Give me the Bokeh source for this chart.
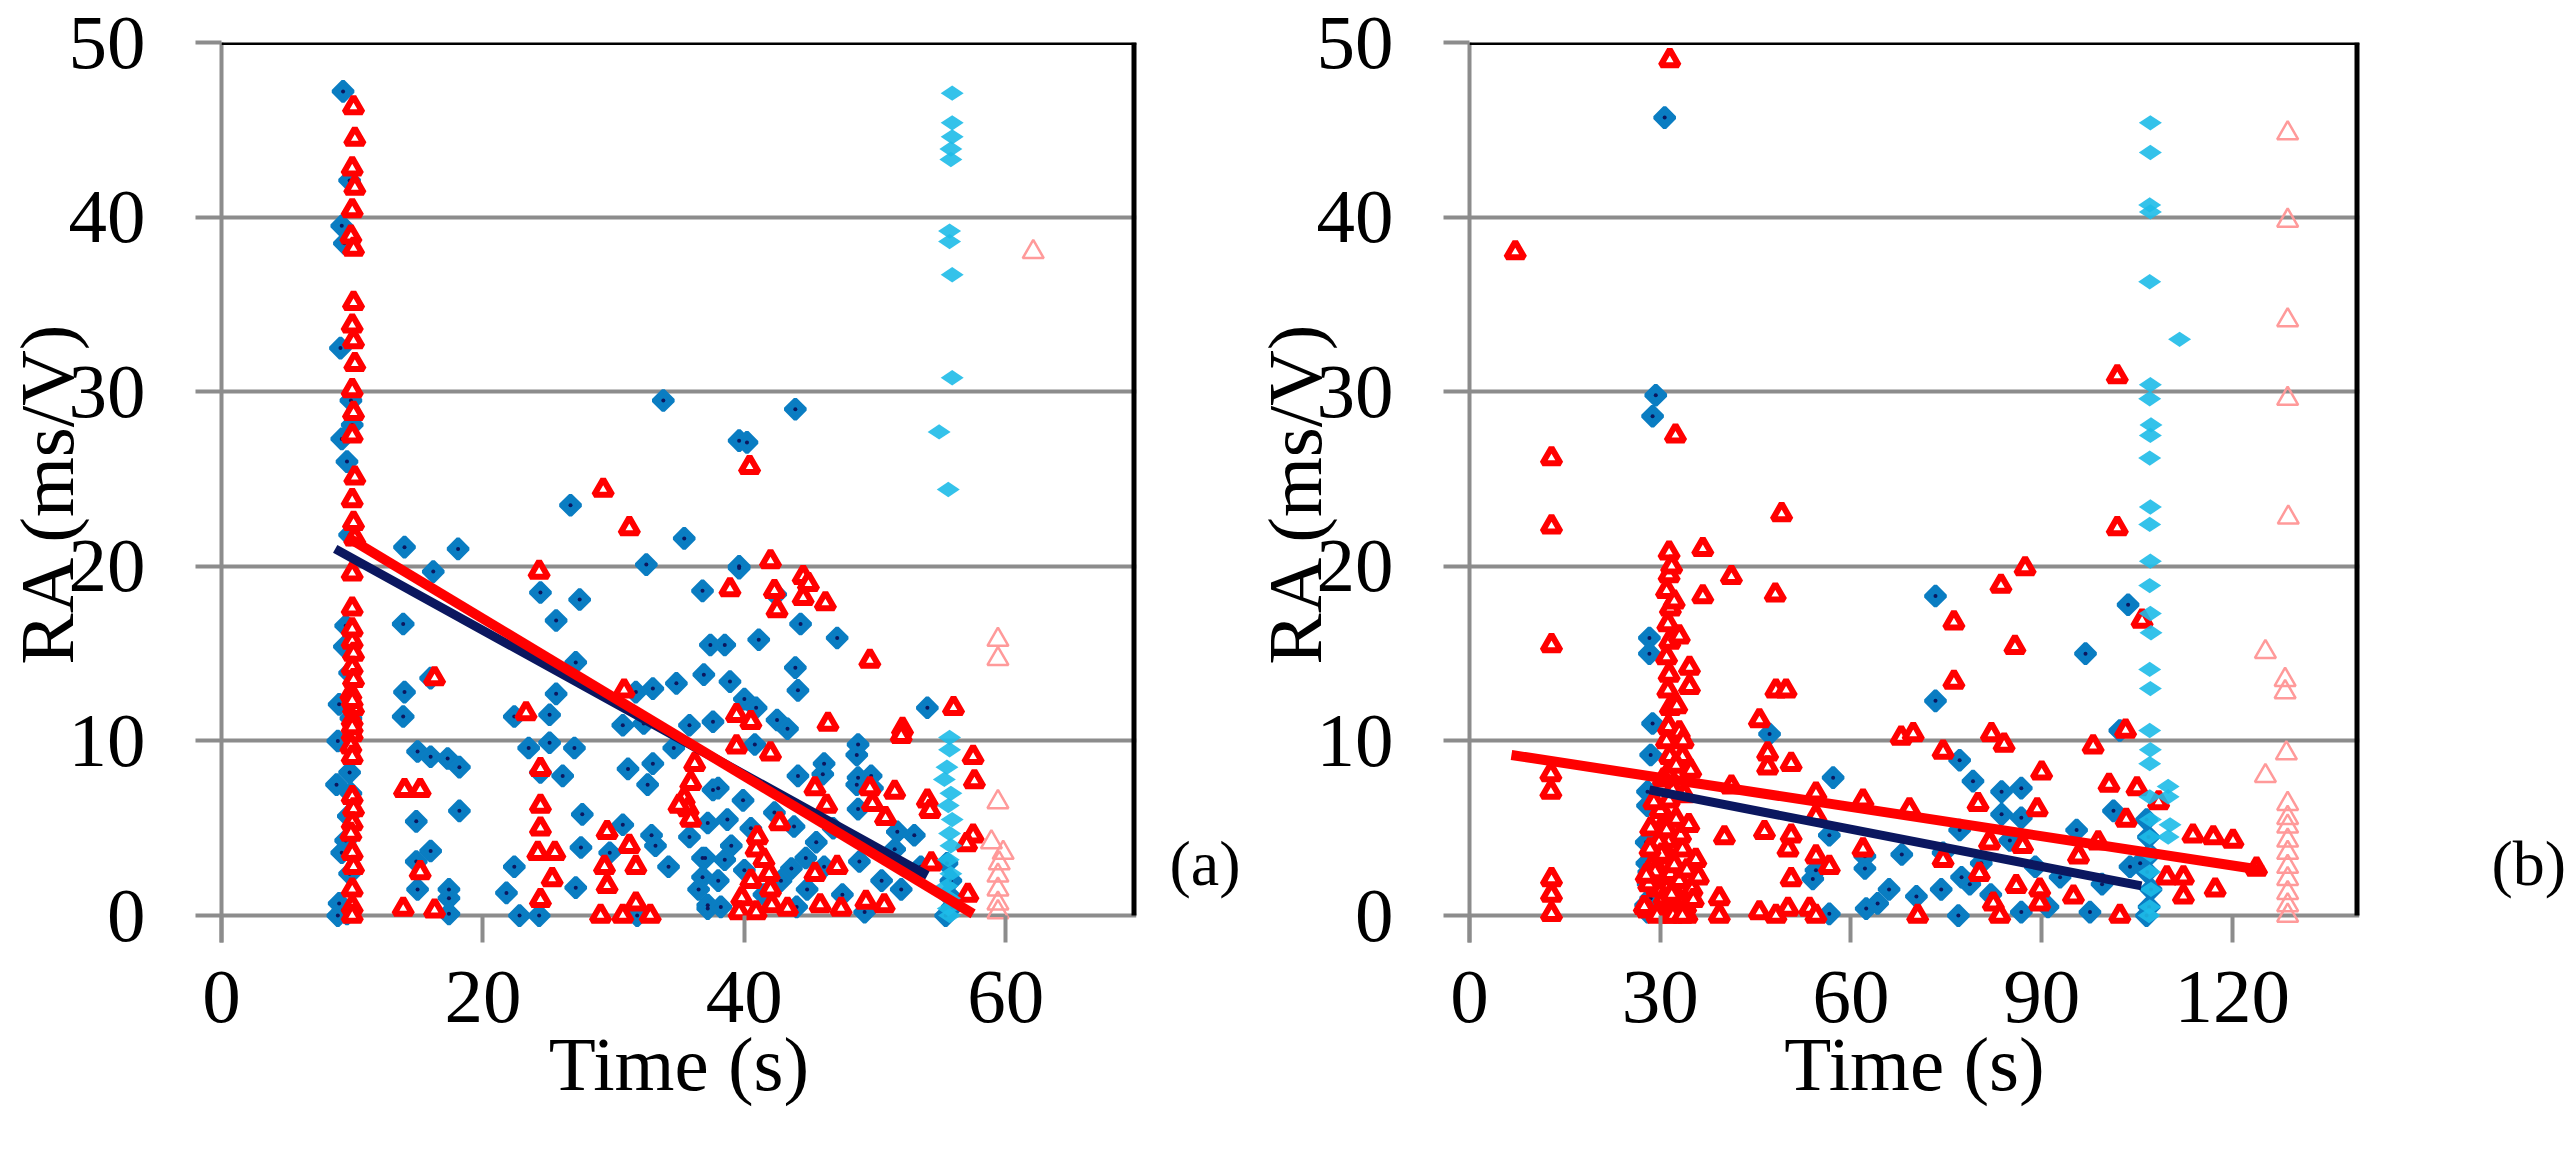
import math
from bokeh.plotting import figure
from bokeh.models import Range1d, Span, FixedTicker, LinearAxis
from bokeh.layouts import row
from bokeh.embed import file_html
from bokeh.resources import INLINE

# ---------------- data : panel (a) ----------------
a_blue_x = [9.3, 9.8, 9.2, 9.4, 9.1, 9.9, 10.0, 9.2, 9.6, 9.8, 9.5, 9.4, 9.8, 9.0, 9.9, 8.9, 9.8, 8.8, 9.9, 9.7,
            9.5, 9.2, 9.8, 9.0, 9.3, 8.9, 9.6,
            33.8, 39.6, 40.2, 43.9, 26.7, 35.4, 32.5, 36.8, 14.0, 18.1, 16.2, 24.4, 27.4, 25.6, 13.9, 27.1, 36.9,
            34.8, 33.0, 31.7, 25.6, 14.0, 16.0, 13.9, 22.4, 25.1, 30.7, 35.8, 37.6, 32.3, 34.6, 23.5, 25.1, 27.0,
            15.0, 16.0, 17.3, 18.2, 31.1, 33.0, 32.6, 26.1, 24.4, 37.6, 18.2, 14.9, 27.6, 30.7, 32.9, 33.2, 27.5,
            29.7, 16.0, 14.9, 22.4, 36.8, 36.8, 15.0, 17.4, 17.4, 21.8, 27.1, 22.8, 24.3, 17.4, 31.8, 37.2, 37.4,
            39.6, 42.4, 44.3, 47.1, 38.5, 41.1, 43.9, 44.1, 38.9, 40.0, 40.9, 42.5, 43.3, 54.0, 48.7, 46.1, 40.8,
            48.7, 49.7, 44.1, 38.0, 39.9, 42.3, 38.7, 37.2, 48.7, 51.7, 53.0, 43.8, 37.0, 38.5, 40.0, 43.6, 44.7,
            46.1, 48.8, 37.2, 49.2, 52.0, 44.8, 48.6, 46.0, 48.6, 49.8, 39.6,
            55.5, 55.8, 55.6, 55.9, 55.4,
            36.5, 38.0, 39.0, 40.5, 41.5, 42.8, 45.5, 47.5, 50.5, 51.5, 53.5, 46.8, 44.0, 38.2, 35.8, 34.2]
a_blue_y = [47.2, 42.1, 39.5, 38.5, 32.5, 29.5, 28.1, 27.3, 26.0, 21.8, 16.6, 15.4, 13.9, 12.1, 11.3, 10.0, 8.2, 7.5,
            7.0, 5.7, 4.3, 3.6, 2.4, 0.7, 0.3, 0.0, 0.1,
            29.5, 27.2, 27.1, 29.0, 23.5, 21.6, 20.1, 18.6, 21.1, 21.0, 19.7, 18.5, 18.1, 16.9, 16.7, 14.5, 13.8,
            13.3, 13.0, 12.8, 12.7, 12.8, 13.6, 11.4, 11.4, 11.5, 10.9, 10.9, 11.1, 11.0, 9.6, 9.6, 9.9, 9.6,
            9.4, 9.1, 9.0, 8.5, 8.4, 8.7, 7.5, 8.0, 8.2, 7.2, 6.0, 5.4, 5.8, 5.2, 4.6, 4.0, 3.9,
            3.6, 3.7, 3.1, 2.8, 3.3, 2.2, 1.5, 1.0, 1.5, 1.3, 1.6, 0.0, 0.0, 0.1, 0.0, 0.4, 15.5,
            20.0, 18.4, 16.7, 15.9, 15.5, 15.8, 14.2, 12.9, 13.4, 12.4, 11.9, 11.2, 10.7, 11.9, 9.8, 8.7, 9.8,
            7.9, 8.0, 8.0, 7.3, 6.6, 5.9, 5.5, 5.3, 6.1, 4.8, 4.6, 5.1, 3.3, 3.2, 2.6, 2.7, 3.3,
            2.8, 3.1, 0.6, 0.2, 1.5, 1.5, 9.2, 8.1, 7.5, 7.3, 19.9,
            3.0, 2.0, 1.2, 0.5, 0.0,
            1.5, 2.0, 4.0, 5.0, 1.2, 2.0, 4.2, 1.2, 2.0, 3.8, 2.8, 5.0, 0.5, 0.5, 4.5, 2.8]

a_red_x = [10.1, 10.2, 10.0, 10.2, 10.0, 9.9, 10.1, 10.1, 10.0, 10.1, 10.2, 10.0, 10.1, 10.0, 10.2, 10.0, 10.1,
           10.2, 10.0, 10.0, 10.0, 10.1, 10.0, 10.1, 9.9, 10.1, 10.0, 10.0, 9.9, 10.0, 10.0, 10.1, 10.0, 9.9,
           10.0, 10.1, 10.0, 10.0, 10.0, 10.0, 10.0, 10.0,
           29.2, 31.2, 40.4, 24.3, 42.0, 38.9, 16.3, 23.3, 14.0, 15.2, 24.4, 24.4, 24.4, 24.2, 25.5, 25.3, 24.4,
           15.2, 13.9, 16.3, 29.5, 31.2, 31.7, 29.3, 29.5, 31.7, 29.0, 30.7, 32.8, 30.8, 36.2, 35.9, 35.4, 35.7,
           35.9, 35.0, 42.3, 42.5, 44.5, 44.5, 46.2, 49.6, 56.0, 46.4, 52.1, 39.4, 40.5, 39.4, 42.0, 57.5, 57.6,
           54.0, 45.4, 49.6, 51.5, 49.8, 50.8, 46.3, 42.7, 57.5, 57.1, 54.3, 45.4, 47.1, 40.9, 41.9, 39.8, 42.1,
           43.3, 45.8, 47.4, 49.3, 50.7, 40.9, 39.6, 44.9, 52.0, 54.2, 57.0, 41.0, 41.5, 40.5, 42.0]
a_red_y = [46.3, 44.5, 42.8, 41.7, 40.4, 38.9, 38.2, 35.1, 33.8, 32.9, 31.6, 30.1, 28.8, 27.5, 25.1, 23.8, 22.5,
           21.6, 19.6, 17.6, 15.7, 15.0, 14.2, 13.5, 12.7, 11.9, 11.2, 10.4, 9.7, 9.1, 6.8, 6.1, 5.3, 4.7,
           3.6, 2.8, 1.5, 0.5, 0.0, 16.4, 12.3, 10.8,
           24.4, 22.2, 25.7, 19.7, 20.3, 18.7, 13.6, 11.6, 7.2, 7.2, 8.4, 6.3, 5.0, 3.6, 3.6, 2.1, 0.9,
           2.5, 0.4, 0.3, 4.8, 4.0, 2.8, 2.8, 1.7, 0.7, 0.0, 0.0, 0.0, 12.9, 8.7, 7.6, 6.7, 6.1,
           5.5, 6.3, 18.6, 17.5, 19.4, 18.2, 17.9, 14.6, 11.9, 11.0, 10.7, 11.5, 11.1, 9.7, 9.3, 9.1, 7.7,
           6.6, 7.3, 7.3, 7.1, 6.4, 5.6, 6.3, 5.3, 4.6, 1.2, 3.0, 2.4, 2.8, 3.8, 2.4, 1.0, 0.6,
           0.4, 0.6, 0.4, 0.8, 0.6, 0.2, 0.2, 19.0, 10.3, 6.0, 4.1, 4.5, 3.2, 2.0, 1.5]

a_cyan_x = [55.9, 55.9, 55.9, 55.8, 55.8, 55.7, 55.7, 55.9, 55.9, 54.9, 55.6, 55.7, 55.7, 55.5, 55.3, 55.8, 55.6,
            55.9, 55.7, 55.8, 55.6, 55.8, 55.5, 55.7, 55.6, 55.7]
a_cyan_y = [47.1, 45.4, 44.6, 43.9, 43.3, 39.2, 38.6, 36.7, 30.8, 27.7, 24.4, 10.2, 9.5, 8.5, 7.8, 7.0, 6.3,
            5.5, 4.7, 4.0, 3.2, 2.4, 1.7, 1.0, 0.4, 0.0]

a_pink_x = [62.1, 59.4, 59.4, 59.4, 58.9, 59.8, 59.5, 59.4, 59.4, 59.4, 59.4]
a_pink_y = [38.0, 15.8, 14.7, 6.5, 4.2, 3.6, 3.0, 2.3, 1.5, 0.7, 0.2]

a_navy_fit_x = [8.7, 54.0]
a_navy_fit_y = [21.0, 2.3]
a_red_fit_x = [9.8, 57.5]
a_red_fit_y = [21.6, 0.1]

# ---------------- data : panel (b) ----------------
b_blue_x = [30.7, 29.3, 28.8, 28.3, 28.3, 28.8, 28.5, 28.0, 28.0, 27.8, 28.2, 28.5, 28.0, 57.2, 47.2, 62.2, 62.2,
            62.4, 64.2, 56.6, 54.0, 54.5, 56.6, 73.3, 103.6, 96.9, 73.3, 102.3, 77.1, 79.2, 83.7, 86.8, 83.7,
            86.8, 95.5, 101.3, 85.0, 77.1, 74.5, 77.4, 74.2, 78.7, 70.3, 76.9, 86.8, 92.9, 97.6, 103.9,
            106.5, 106.8, 107.0, 106.6, 107.2, 106.9, 106.5, 105.5, 66.0, 68.0, 80.5, 82.0, 89.0, 91.0, 99.5,
            27.9, 28.1, 27.7]
b_blue_y = [45.7, 29.8, 28.6, 15.9, 15.0, 11.0, 9.2, 7.1, 6.3, 4.2, 2.5, 1.0, 0.2, 7.9, 10.4, 3.4, 2.7,
            0.4, 0.7, 0.1, 2.1, 2.6, 4.6, 18.3, 17.8, 15.0, 12.3, 10.6, 8.9, 7.7, 7.1, 7.3, 5.8,
            5.6, 4.9, 6.0, 4.3, 4.9, 3.6, 2.2, 1.5, 1.8, 1.1, 0.0, 0.2, 2.2, 0.2, 2.8,
            5.5, 4.5, 3.5, 2.5, 1.5, 0.5, 0.0, 3.0, 1.5, 3.5, 3.0, 1.2, 2.8, 0.5, 1.8,
            3.0, 1.8, 0.6]

b_red_x = [31.5, 7.2, 32.4, 12.9, 12.9, 49.1, 31.4, 36.7, 41.2, 36.7, 48.1, 12.9, 12.8, 12.8, 12.9, 12.9, 12.9,
           31.4, 31.0, 31.6, 31.2, 31.5, 31.0, 31.4, 31.2, 31.6, 31.3, 31.0, 31.5, 31.2, 31.4, 31.0, 31.5,
           31.2, 31.6, 31.0, 31.4, 31.2,
           28.5, 29.0, 29.5, 28.0, 30.0, 32.5, 33.0, 34.0, 33.5, 30.0, 32.0, 29.8, 32.8, 34.6, 34.6, 33.5,
           35.6, 33.0, 32.6, 34.2, 35.0,
           27.5, 28.2, 29.2, 30.2, 30.6, 31.8, 32.2, 33.2, 34.2, 35.2, 29.0, 30.5, 32.5, 33.8, 34.5, 36.0,
           28.4, 29.5, 32.0, 33.5, 27.8, 31.0, 33.0, 32.2, 31.8, 33.6, 34.8,
           48.2, 49.8, 45.6, 46.9, 46.9, 50.6, 41.2, 40.1, 46.4, 50.1, 50.6, 54.5, 54.5, 61.9, 61.9, 54.5,
           56.6, 50.6, 39.3, 39.3, 45.6, 48.2, 50.1, 53.5, 54.5, 67.9,
           101.9, 101.9, 87.4, 83.6, 76.2, 85.8, 76.2, 105.8, 69.8, 82.1, 84.1, 74.5, 98.1, 103.2, 90.0, 100.6,
           105.0, 108.4, 80.0, 89.3, 69.2, 103.3, 113.8, 117.0, 120.1, 123.8, 81.8, 87.0, 98.9, 95.8, 74.5,
           80.2, 86.0, 89.7, 95.0, 82.4, 89.7, 83.4, 102.3, 70.5, 112.3, 112.3, 117.3, 109.7]
b_red_y = [49.0, 38.0, 27.5, 26.2, 22.3, 23.0, 20.8, 21.0, 19.4, 18.3, 18.4, 15.5, 8.1, 7.1, 2.1, 1.2, 0.1,
           19.5, 18.6, 17.6, 16.7, 15.7, 14.8, 13.8, 12.9, 11.9, 10.8, 10.0, 9.1, 8.1, 6.6, 5.5, 4.3,
           3.4, 2.4, 1.5, 0.6, 0.0,
           5.0, 3.0, 1.5, 0.3, 6.0, 5.5, 2.0, 0.5, 3.8, 0.2, 7.2, 4.2, 1.0, 14.2, 13.1, 9.1,
           3.2, 16.0, 12.0, 0.0, 1.5,
           0.5, 1.8, 2.5, 3.5, 1.0, 1.2, 2.9, 4.6, 2.6, 0.9, 6.5, 7.8, 8.6, 6.9, 5.2, 2.2,
           3.8, 0.0, 0.0, 0.0, 2.3, 4.9, 10.5, 18.0, 20.0, 10.0, 8.3,
           12.9, 12.9, 11.2, 9.3, 8.5, 8.7, 7.4, 4.5, 4.8, 3.8, 4.6, 7.0, 5.7, 6.6, 3.8, 3.4,
           2.8, 2.1, 1.0, 0.0, 0.2, 0.0, 0.4, 0.4, 0.0, 10.2,
           30.9, 22.2, 19.9, 18.9, 16.8, 15.4, 13.4, 16.9, 10.4, 10.4, 9.8, 9.4, 9.7, 10.6, 8.2, 7.5,
           7.3, 6.5, 6.4, 6.1, 6.1, 5.5, 4.6, 4.5, 4.3, 2.7, 4.2, 4.0, 4.2, 3.4, 3.2,
           2.4, 1.7, 1.5, 1.1, 0.7, 0.7, 0.0, 0.0, 0.0, 2.2, 1.1, 1.5, 2.2]

b_cyan_x = [107.1, 107.1, 107.0, 107.1, 107.0, 111.7, 107.1, 107.0, 107.2, 107.1, 107.0, 107.1, 107.0, 107.1,
            107.0, 107.1, 107.2, 107.0, 107.1, 107.0, 107.1, 107.0, 109.9, 109.9, 110.2, 109.9, 107.0, 107.1,
            107.0, 107.1, 107.0, 107.2, 107.0, 106.9]
b_cyan_y = [45.4, 43.7, 40.7, 40.3, 36.3, 33.0, 30.4, 29.6, 28.1, 27.5, 26.2, 23.4, 22.4, 20.3, 18.9, 17.3, 16.2,
            14.1, 13.0, 10.6, 9.5, 8.7, 7.4, 6.8, 5.2, 4.5, 6.8, 5.5, 4.5, 3.5, 2.5, 1.5, 0.5, 0.0]

b_pink_x = [128.7, 128.7, 128.7, 128.7, 128.8, 125.2, 128.3, 128.3, 128.5, 125.2, 128.7, 128.7, 128.7, 128.7,
            128.7, 128.7, 128.7, 128.7, 128.7, 128.7]
b_pink_y = [44.8, 39.8, 34.1, 29.6, 22.8, 15.1, 13.5, 12.8, 9.3, 8.0, 6.4, 5.6, 5.1, 4.3, 3.6, 2.8, 2.1, 1.3,
            0.6, 0.0]

b_navy_fit_x = [28.3, 105.7]
b_navy_fit_y = [7.2, 1.7]
b_red_fit_x = [6.6, 124.9]
b_red_fit_y = [9.2, 2.6]

x_ticks_a = [0, 20, 40, 60]
x_ticks_b = [0, 30, 60, 90, 120]
y_ticks = [0, 10, 20, 30, 40, 50]
tag_level = 3.0

# ---------------- style ----------------
FONT = "Liberation Serif"
GRID = "#8c8c8c"
BLUE = "#0a7dc2"
NAVY = "#0b175f"
RED = "#ff0000"
CYAN = "#1ebbe8"
PINK = "#ff9a9a"


def panel(x_max, xticks, frame_w, border_l, border_r, blue, red, cyan, pink, navy_fit, red_fit,
          tag, tag_standoff):
    y_min, y_max = -1.54, 50
    p = figure(frame_width=frame_w, frame_height=900,
               min_border_left=border_l, min_border_right=border_r,
               min_border_top=42, min_border_bottom=204,
               x_range=Range1d(0, x_max), y_range=Range1d(y_min, y_max),
               output_backend="svg", toolbar_location=None)
    p.outline_line_color = None
    p.background_fill_color = "white"
    p.border_fill_color = "white"
    p.xgrid.visible = False
    p.ygrid.grid_line_color = GRID
    p.ygrid.grid_line_width = 4
    p.ygrid.level = "underlay"

    xa = p.xaxis[0]
    xa.ticker = FixedTicker(ticks=xticks)
    xa.axis_line_color = None
    xa.major_tick_in = 27
    xa.major_tick_out = 0
    xa.major_tick_line_color = GRID
    xa.major_tick_line_width = 4
    xa.minor_tick_line_color = None
    xa.major_label_text_font = FONT
    xa.major_label_text_font_size = "77px"
    xa.major_label_text_color = "black"
    xa.major_label_standoff = 29
    xa.axis_label = "Time (s)"
    xa.axis_label_text_font = FONT
    xa.axis_label_text_font_size = "77px"
    xa.axis_label_text_font_style = "normal"
    xa.axis_label_text_color = "black"
    xa.axis_label_standoff = -4

    ya = p.yaxis[0]
    ya.ticker = FixedTicker(ticks=y_ticks)
    ya.axis_line_color = GRID
    ya.axis_line_width = 4
    ya.major_tick_in = 0
    ya.major_tick_out = 26
    ya.major_tick_line_color = GRID
    ya.major_tick_line_width = 4
    ya.minor_tick_line_color = None
    ya.major_label_text_font = FONT
    ya.major_label_text_font_size = "77px"
    ya.major_label_text_color = "black"
    ya.major_label_standoff = 50
    ya.axis_label = "RA (ms/V)"
    ya.axis_label_text_font = FONT
    ya.axis_label_text_font_size = "77px"
    ya.axis_label_text_font_style = "normal"
    ya.axis_label_text_color = "black"
    ya.axis_label_standoff = -24

    # panel tag "(a)"/"(b)" shown as the only label of an invisible right axis
    tag_axis = LinearAxis(ticker=FixedTicker(ticks=[tag_level]),
                          major_label_overrides={tag_level: tag},
                          axis_line_color=None, major_tick_line_color=None,
                          minor_tick_line_color=None, major_tick_out=0, major_tick_in=0,
                          major_label_standoff=tag_standoff,
                          major_label_text_font=FONT, major_label_text_font_size="64px",
                          major_label_text_color="black")
    p.add_layout(tag_axis, "right")

    # borders: black top and right
    p.add_layout(Span(location=y_max, dimension="width", line_color="black", line_width=5))
    p.segment(x0=[x_max], y0=[0], x1=[x_max], y1=[y_max], line_color="black", line_width=10)

    # series
    p.scatter(blue[0], blue[1], marker="square", angle=math.pi / 4, size=14,
              fill_color=BLUE, line_color=BLUE, line_width=4)
    p.scatter(blue[0], blue[1], marker="circle", size=4, fill_color=NAVY, line_color=None)
    p.scatter(red[0], red[1], marker="triangle", size=18, fill_color="white",
              line_color=RED, line_width=6)
    p.scatter(cyan[0], cyan[1], marker="diamond", angle=math.pi / 2, size=23,
              fill_color=CYAN, line_color=None, fill_alpha=0.9)
    p.scatter(pink[0], pink[1], marker="triangle", size=21, fill_color=None,
              line_color=PINK, line_width=2.5)
    p.line(navy_fit[0], navy_fit[1], line_color=NAVY, line_width=9)
    p.line(red_fit[0], red_fit[1], line_color=RED, line_width=10)
    return p


p1 = panel(70, x_ticks_a, 915, 216, 112,
           (a_blue_x, a_blue_y), (a_red_x, a_red_y), (a_cyan_x, a_cyan_y), (a_pink_x, a_pink_y),
           (a_navy_fit_x, a_navy_fit_y), (a_red_fit_x, a_red_fit_y), "(a)", 33)
p2 = panel(140, x_ticks_b, 890, 216, 210,
           (b_blue_x, b_blue_y), (b_red_x, b_red_y), (b_cyan_x, b_cyan_y), (b_pink_x, b_pink_y),
           (b_navy_fit_x, b_navy_fit_y), (b_red_fit_x, b_red_fit_y), "(b)", 132)

layout = row(p1, p2)
open("out.html", "w").write(file_html(layout, INLINE))
